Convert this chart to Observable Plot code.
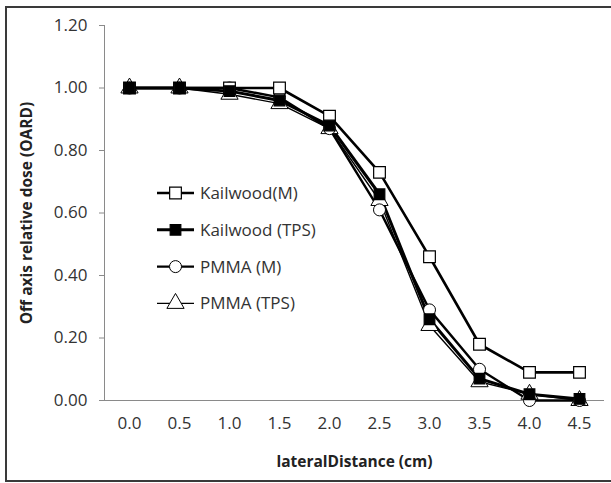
<!DOCTYPE html>
<html><head><meta charset="utf-8">
<script src="https://cdn.jsdelivr.net/npm/d3@7"></script>
<script src="https://cdn.jsdelivr.net/npm/@observablehq/plot@0.6"></script>
<style>
body{margin:0;background:#fff;}
#wrap{position:relative;width:611px;height:483px;overflow:hidden;font-family:"Open Sans",sans-serif;}
#box{position:absolute;left:5px;top:6px;width:640px;height:476px;border:2px solid #3a3a3a;box-sizing:border-box;}
#chart{position:absolute;left:0;top:0;}
#legend{position:absolute;left:0;top:0;}
</style></head><body>
<div id="wrap"><div id="box"></div><div id="chart"></div><svg id="legend" width="611" height="483"></svg></div>
<script>
// ---- data ----
const distance = [0.0, 0.5, 1.0, 1.5, 2.0, 2.5, 3.0, 3.5, 4.0, 4.5];
const kailwoodM   = [1.00, 1.00, 1.00, 1.00, 0.91, 0.73, 0.46, 0.18, 0.09, 0.09];
const kailwoodTPS = [1.00, 1.00, 0.99, 0.96, 0.88, 0.66, 0.26, 0.07, 0.02, 0.005];
const pmmaM       = [1.00, 1.00, 1.00, 0.97, 0.87, 0.61, 0.29, 0.10, 0.00, 0.00];
const pmmaTPS     = [1.00, 1.00, 0.98, 0.95, 0.87, 0.64, 0.24, 0.06, 0.02, 0.00];
const seriesNames = ["Kailwood(M)", "Kailwood (TPS)", "PMMA (M)", "PMMA (TPS)"];
const yTicks = [0, 0.2, 0.4, 0.6, 0.8, 1.0, 1.2];
const xTitle = "lateralDistance (cm)";
const yTitle = "Off axis relative dose (OARD)";

// ---- styles ----
const styles = [
  {symbol: "square",   r: 6.6, fill: "white", sw: 2.6, msw: 1.2},
  {symbol: "square",   r: 6.0, fill: "black", sw: 3.0, msw: 1.2},
  {symbol: "circle",   r: 6.0, fill: "white", sw: 2.4, msw: 1.0},
  {symbol: "triangle", r: 6.4, fill: "white", sw: 1.4, msw: 1.0}
];
const values = [kailwoodM, kailwoodTPS, pmmaM, pmmaTPS];
const tables = values.map(v => distance.map((d, i) => ({x: d, y: v[i]})));
const markerOrder = [3, 2, 0, 1];

const marks = [
  Plot.ruleX([-0.25], {y1: 0, y2: 1.2, stroke: "#8a8a8a", strokeWidth: 1}),
  Plot.ruleY([0], {x1: -0.25, x2: 4.75, stroke: "#8a8a8a", strokeWidth: 1}),
  Plot.axisY({ticks: yTicks, tickFormat: d => d.toFixed(2), tickSize: 5, tickPadding: 12,
    stroke: "#8a8a8a", fill: "#333", fontSize: 17, label: null}),
  Plot.axisX({ticks: distance, tickFormat: d => d.toFixed(1), tickSize: 0, tickPadding: 16,
    fill: "#333", fontSize: 17, label: null}),
  Plot.text([yTitle], {frameAnchor: "left", dx: -77, rotate: -90, textAnchor: "middle",
    lineAnchor: "middle", fontSize: 15.5, fontWeight: "bold", fill: "#222"}),
  Plot.text([xTitle], {frameAnchor: "bottom", dy: 62, lineAnchor: "middle", textAnchor: "middle",
    fontSize: 15.5, fontWeight: "bold", fill: "#222"})
];
tables.forEach((t, k) => {
  const s = styles[k];
  marks.push(Plot.line(t, {x: "x", y: "y", stroke: "black", strokeWidth: s.sw}));
});
markerOrder.forEach(k => {
  const s = styles[k];
  marks.push(Plot.dot(tables[k], {x: "x", y: "y", symbol: s.symbol, r: s.r, fill: s.fill,
    stroke: "black", strokeWidth: s.msw}));
});

const chart = Plot.plot({
  width: 611, height: 483,
  marginLeft: 104, marginRight: 7, marginTop: 25, marginBottom: 83,
  style: {fontFamily: "'Open Sans', sans-serif", background: "transparent", overflow: "visible"},
  x: {type: "linear", domain: [-0.25, 4.75]},
  y: {domain: [0, 1.2]},
  marks
});
document.getElementById("chart").append(chart);

// ---- legend ----
const leg = d3.select("#legend");
const legX = 157, legW = 37, legText = 200, legY0 = 193, legStep = 36.8;
seriesNames.forEach((name, k) => {
  const s = styles[k];
  const y = legY0 + k * legStep;
  const g = leg.append("g");
  g.append("line").attr("x1", legX).attr("x2", legX + legW).attr("y1", y).attr("y2", y)
    .attr("stroke", "black").attr("stroke-width", s.sw);
  const sym = {square: d3.symbolSquare, circle: d3.symbolCircle, triangle: d3.symbolTriangle}[s.symbol];
  g.append("path").attr("d", d3.symbol(sym, Math.PI * s.r * s.r)())
    .attr("transform", `translate(${legX + legW / 2},${y})`)
    .attr("fill", s.fill).attr("stroke", "black").attr("stroke-width", s.msw);
  g.append("text").attr("x", legText).attr("y", y).attr("dy", "0.35em")
    .attr("font-family", "'Open Sans', sans-serif").attr("font-size", 17).attr("fill", "#333")
    .text(name);
});
</script>
</body></html>
